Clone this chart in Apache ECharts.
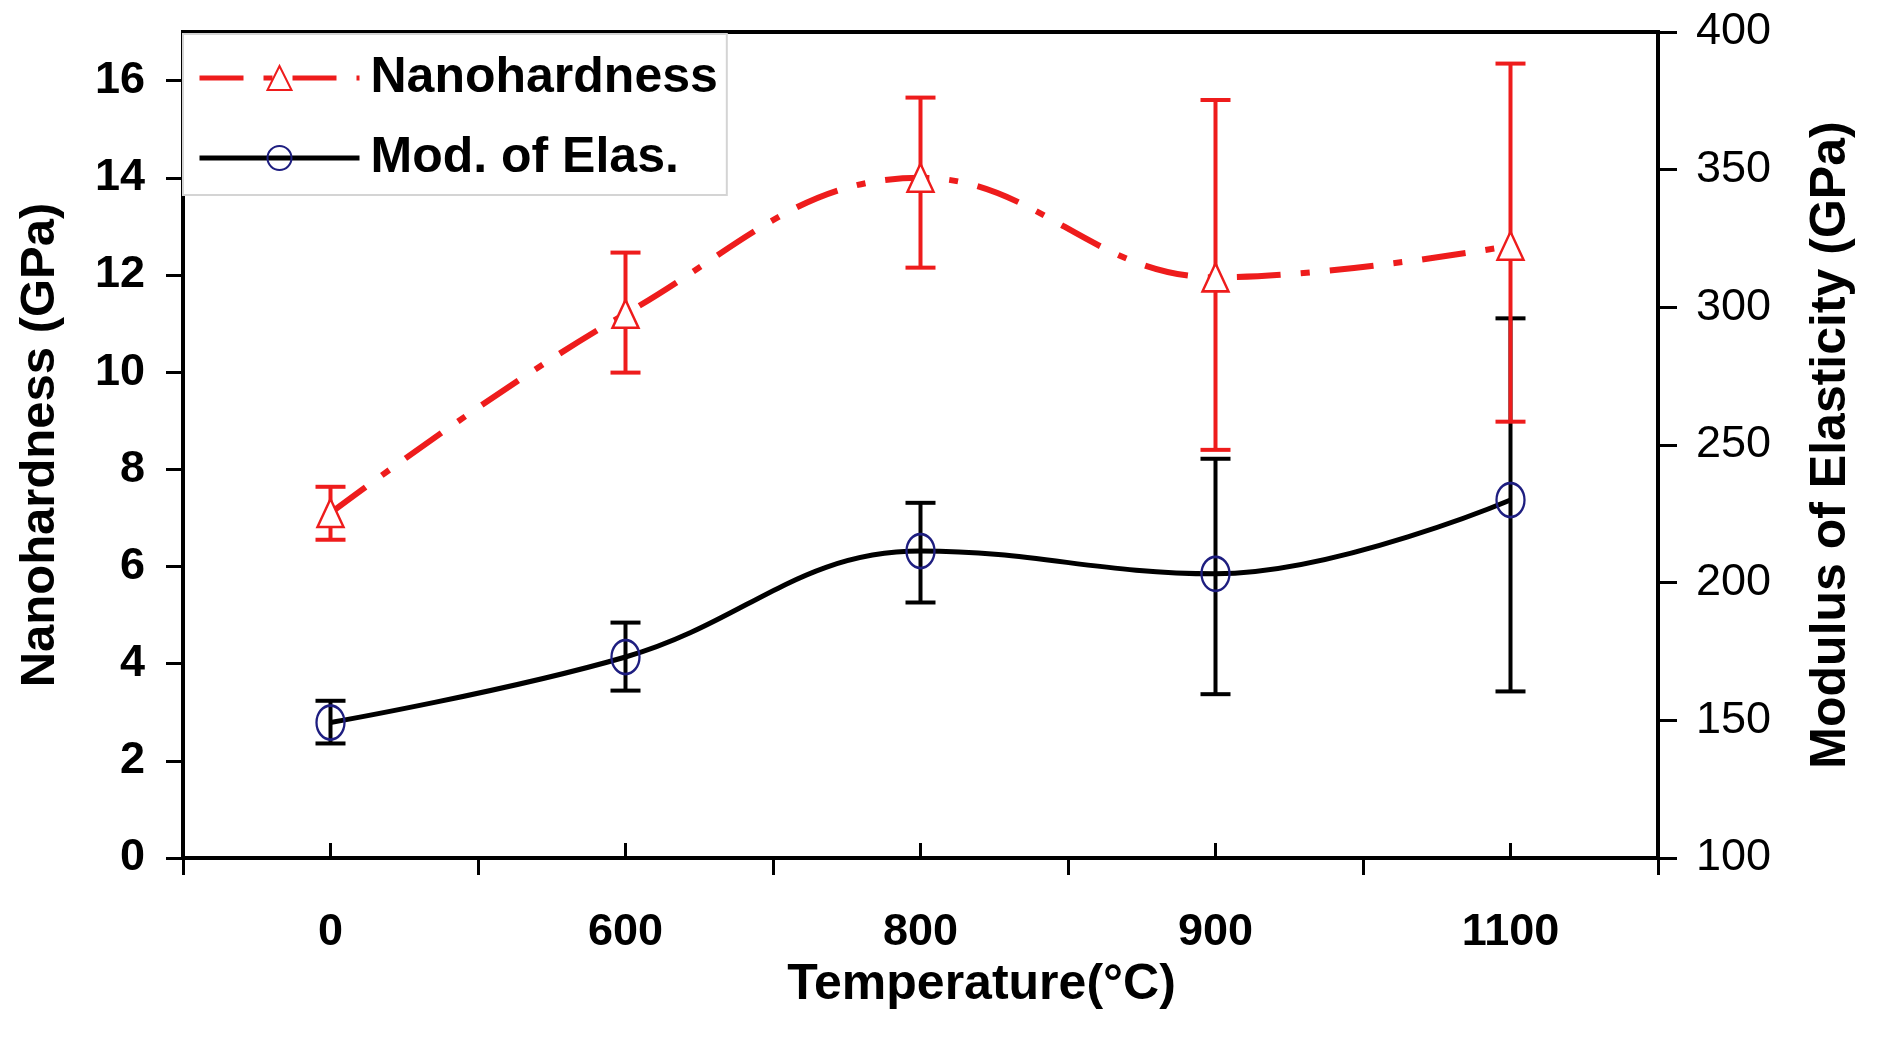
<!DOCTYPE html>
<html><head><meta charset="utf-8">
<script src="https://cdn.jsdelivr.net/npm/echarts@6/dist/echarts.min.js"></script>
<style>html,body{margin:0;padding:0;background:#fff}#c{width:1879px;height:1040px}</style>
</head><body><div id="c"></div>
<script>
// ---- data ----
const categories = ['0', '600', '800', '900', '1100'];
const hardness = [7.1, 11.2, 14.0, 11.95, 12.6];
const hardnessHigh = [7.64, 12.46, 15.65, 15.6, 16.35];
const hardnessLow = [6.55, 9.99, 12.15, 8.4, 8.98];
const modulus = [149.2, 173.0, 211.5, 203.2, 230.0];
const modulusHigh = [157.1, 185.5, 229.0, 245.0, 296.0];
const modulusLow = [141.6, 160.8, 192.8, 159.5, 160.5];
const leftTicks = [0, 2, 4, 6, 8, 10, 12, 14, 16];
const rightTicks = [100, 150, 200, 250, 300, 350, 400];

const FONT = "'Liberation Sans', Arial, sans-serif";
const RED = '#ee1c1c';
const NAVY = '#1e1e80';

function errRender(color, width) {
  return function (params, api) {
    const x = api.value(0);
    const top = api.coord([x, api.value(1)]);
    const bot = api.coord([x, api.value(2)]);
    const hw = 15;
    const style = { stroke: color, lineWidth: width };
    return {
      type: 'group',
      children: [
        { type: 'line', shape: { x1: top[0], y1: top[1], x2: bot[0], y2: bot[1] }, style: style },
        { type: 'line', shape: { x1: top[0] - hw, y1: top[1], x2: top[0] + hw, y2: top[1] }, style: style },
        { type: 'line', shape: { x1: bot[0] - hw, y1: bot[1], x2: bot[0] + hw, y2: bot[1] }, style: style }
      ]
    };
  };
}

const chart = echarts.init(document.getElementById('c'), null, { renderer: 'canvas' });
const axisLineStyle = { color: '#000', width: 4 };

chart.setOption({
  backgroundColor: '#fff',
  animation: false,
  grid: {
    left: 183, right: 221, top: 32, bottom: 182,
    show: true, borderColor: '#000', borderWidth: 4, backgroundColor: 'transparent'
  },
  legend: {
    orient: 'vertical',
    left: 183, top: 34,
    data: ['Nanohardness', 'Mod. of Elas.'],
    itemWidth: 160, itemHeight: 30, itemGap: 30,
    padding: [19, 9, 12, 14],
    backgroundColor: '#fff',
    borderColor: '#d4d4d4', borderWidth: 2,
    borderRadius: 0,
    lineStyle: { width: 5 },
    textStyle: { fontFamily: FONT, fontWeight: 'bold', fontSize: 50, color: '#000', lineHeight: 50, padding: [0, 0, 0, 6] },
    selectedMode: false
  },
  xAxis: [
    {
      type: 'category', data: categories, position: 'bottom', boundaryGap: true,
      axisLine: { show: true, lineStyle: axisLineStyle },
      axisTick: { show: true, alignWithLabel: false, inside: false, length: 17, lineStyle: { color: '#000', width: 3 } },
      axisLabel: { show: true, margin: 52, fontFamily: FONT, fontWeight: 'bold', fontSize: 45, color: '#000' },
      splitLine: { show: false },
      name: 'Temperature(°C)', nameLocation: 'middle', nameGap: 90,
      nameTextStyle: { fontFamily: FONT, fontWeight: 'bold', fontSize: 50, color: '#000', padding: [0, 0, 0, 122] }
    },
    {
      type: 'category', data: categories, position: 'bottom', boundaryGap: true,
      axisLine: { show: false },
      axisTick: { show: true, alignWithLabel: true, inside: true, length: 15, lineStyle: { color: '#000', width: 3 } },
      axisLabel: { show: false },
      splitLine: { show: false }
    }
  ],
  yAxis: [
    {
      type: 'value', position: 'left', min: 0, max: 17, interval: 2,
      axisLine: { show: true, lineStyle: axisLineStyle },
      axisTick: { show: true, inside: false, length: 17, lineStyle: { color: '#000', width: 3 }, customValues: leftTicks },
      axisLabel: { margin: 38, fontFamily: FONT, fontWeight: 'bold', fontSize: 45, color: '#000', customValues: leftTicks },
      splitLine: { show: false },
      name: 'Nanohardness (GPa)', nameLocation: 'middle', nameGap: 118,
      nameTextStyle: { fontFamily: FONT, fontWeight: 'bold', fontSize: 49, color: '#000' }
    },
    {
      type: 'value', position: 'right', min: 100, max: 400, interval: 50,
      axisLine: { show: true, lineStyle: axisLineStyle },
      axisTick: { show: true, inside: false, length: 19, lineStyle: { color: '#000', width: 3 }, customValues: rightTicks },
      axisLabel: { margin: 38, fontFamily: FONT, fontWeight: 'normal', fontSize: 45, color: '#000', customValues: rightTicks },
      splitLine: { show: false },
      name: 'Modulus of Elasticity (GPa)', nameLocation: 'middle', nameGap: 148,
      nameTextStyle: { fontFamily: FONT, fontWeight: 'bold', fontSize: 50, color: '#000' }
    }
  ],
  series: [
    {
      name: 'Nanohardness', type: 'line', xAxisIndex: 0, yAxisIndex: 0,
      data: hardness, smooth: 0.4, z: 3,
      lineStyle: { color: RED, width: 6, type: [44, 20, 9, 20], cap: 'butt' },
      symbol: 'triangle', symbolSize: [26, 28],
      itemStyle: { color: '#fff', borderColor: RED, borderWidth: 2.5 }
    },
    {
      name: 'Mod. of Elas.', type: 'line', xAxisIndex: 0, yAxisIndex: 1,
      data: modulus, smooth: 0.4, z: 3,
      lineStyle: { color: '#000', width: 5 },
      symbol: 'circle', symbolSize: [28, 34],
      itemStyle: { color: 'rgba(255,255,255,0)', borderColor: NAVY, borderWidth: 2.5 }
    },
    {
      name: 'modErr', type: 'custom', xAxisIndex: 0, yAxisIndex: 1, z: 2,
      renderItem: errRender('#000', 4),
      encode: { x: 0, y: [1, 2] },
      data: categories.map((c, i) => [i, modulusHigh[i], modulusLow[i]])
    },
    {
      name: 'hardErr', type: 'custom', xAxisIndex: 0, yAxisIndex: 0, z: 2,
      renderItem: errRender(RED, 4),
      encode: { x: 0, y: [1, 2] },
      data: categories.map((c, i) => [i, hardnessHigh[i], hardnessLow[i]])
    }
  ]
});
</script>
</body></html>
